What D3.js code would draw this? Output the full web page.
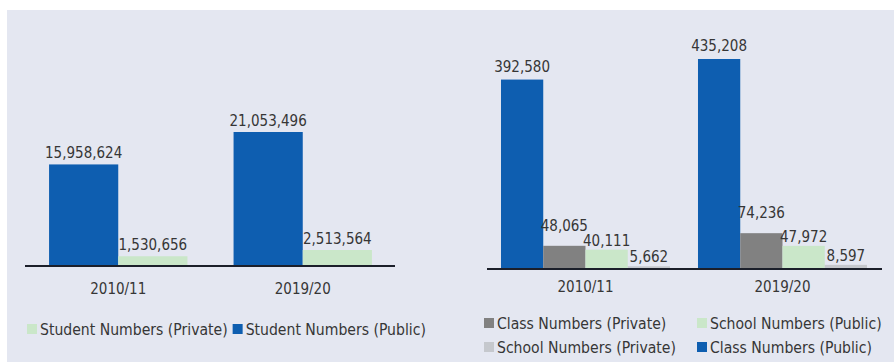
<!DOCTYPE html>
<html>
<head>
<meta charset="utf-8">
<script src="https://cdn.jsdelivr.net/npm/d3@7"></script>
<style>
  html, body { margin: 0; padding: 0; background: #ffffff; }
  svg { display: block; }
  text { font-family: "DejaVu Sans Condensed", "DejaVu Sans", sans-serif; font-stretch: condensed; fill: #363636; }
</style>
</head>
<body>
<svg id="chart" width="894" height="362"></svg>
<script>
// Years shown on both panels
const categories = ["2010/11", "2019/20"];

// Left panel: student numbers
const studentPublic = [15958624, 21053496];
const studentPrivate = [1530656, 2513564];

// Right panel: class and school numbers
const classPublic = [392580, 435208];
const classPrivate = [48065, 74236];
const schoolPublic = [40111, 47972];
const schoolPrivate = [5662, 8597];

const colors = {
  blue: "#0e5eb0",
  gray: "#818181",
  green: "#cae7c9",
  lightGray: "#c5c8cd"
};

const fmt = d3.format(",");
const svg = d3.select("#chart");

// panel background
svg.append("rect")
  .attr("x", 7).attr("y", 10)
  .attr("width", 887).attr("height", 352)
  .attr("fill", "#e4e7f1");

// ---------- left panel ----------
const leftSeries = [
  { key: "public", values: studentPublic, color: colors.blue, offset: 6 },
  { key: "private", values: studentPrivate, color: colors.green, offset: 6 }
];

const xL = d3.scaleBand().domain(categories).range([26, 395])
  .paddingInner(0.25).paddingOuter(0.125);
const xLInner = d3.scaleBand().domain(leftSeries.map(s => s.key)).range([0, xL.bandwidth()]);
const yL = d3.scaleLinear().domain([0, d3.max(studentPublic)]).range([266, 132]);

function drawBars(g, series, x, xInner, y, fontSize) {
  series.forEach(s => {
    const rows = categories.map((c, i) => ({ c, v: s.values[i] }));
    g.selectAll(null).data(rows).enter().append("rect")
      .attr("x", d => x(d.c) + xInner(s.key))
      .attr("y", d => y(d.v))
      .attr("width", xInner.bandwidth())
      .attr("height", d => y(0) - y(d.v))
      .attr("fill", s.color);
    g.selectAll(null).data(rows).enter().append("text")
      .attr("x", d => x(d.c) + xInner(s.key) + xInner.bandwidth() / 2)
      .attr("y", d => y(d.v) - s.offset)
      .attr("text-anchor", "middle")
      .attr("font-size", fontSize)
      .text(d => fmt(d.v));
  });
}

const gL = svg.append("g");
drawBars(gL, leftSeries, xL, xLInner, yL, 15);

// baseline and category labels
const axisL = gL.append("g").attr("transform", `translate(0,${yL(0)})`)
  .call(d3.axisBottom(xL).tickSize(0).tickPadding(17));
axisL.select(".domain").attr("stroke", "#1b1f2a").attr("stroke-width", 2)
  .attr("d", `M${xL.range()[0] - 1},0H${xL.range()[1]}`);
axisL.selectAll("text").attr("font-size", 15).attr("fill", "#363636")
  .attr("font-family", null);

// ---------- right panel ----------
const rightSeries = [
  { key: "classPublic", values: classPublic, color: colors.blue, offset: 8 },
  { key: "classPrivate", values: classPrivate, color: colors.gray, offset: 15 },
  { key: "schoolPublic", values: schoolPublic, color: colors.green, offset: 4 },
  { key: "schoolPrivate", values: schoolPrivate, color: colors.lightGray, offset: 4 }
];

const xR = d3.scaleBand().domain(categories).range([487, 881])
  .paddingInner(0.142).paddingOuter(0.071);
const xRInner = d3.scaleBand().domain(rightSeries.map(s => s.key)).range([0, xR.bandwidth()]);
const yR = d3.scaleLinear().domain([0, d3.max(classPublic)]).range([269, 59]);

const gR = svg.append("g");
drawBars(gR, rightSeries, xR, xRInner, yR, 15);

const axisR = gR.append("g").attr("transform", `translate(0,${yR(0)})`)
  .call(d3.axisBottom(xR).tickSize(0).tickPadding(12));
axisR.select(".domain").attr("stroke", "#1b1f2a").attr("stroke-width", 2)
  .attr("d", `M${xR.range()[0]},0H${xR.range()[1] + 1}`);
axisR.selectAll("text").attr("font-size", 15).attr("fill", "#363636")
  .attr("font-family", null);

// ---------- legends ----------
function legendItem(g, x, y, color, label, size) {
  g.append("rect").attr("x", x).attr("y", y - 5).attr("width", 10).attr("height", 10)
    .attr("fill", color);
  const t = g.append("text").attr("x", x + 13).attr("y", y + 5.5)
    .attr("font-size", size).text(label);
  return x + 13 + t.node().getComputedTextLength();
}

const legendSize = 15.6;
const legL = svg.append("g");
let lx = legendItem(legL, 27, 329, colors.green, "Student Numbers (Private)", legendSize);
legendItem(legL, lx + 5, 329, colors.blue, "Student Numbers (Public)", legendSize);

const legR = svg.append("g");
legendItem(legR, 484, 323, colors.gray, "Class Numbers (Private)", legendSize);
legendItem(legR, 697, 323, colors.green, "School Numbers (Public)", legendSize);
legendItem(legR, 484, 347, colors.lightGray, "School Numbers (Private)", legendSize);
legendItem(legR, 697, 347, colors.blue, "Class Numbers (Public)", legendSize);
</script>
</body>
</html>
